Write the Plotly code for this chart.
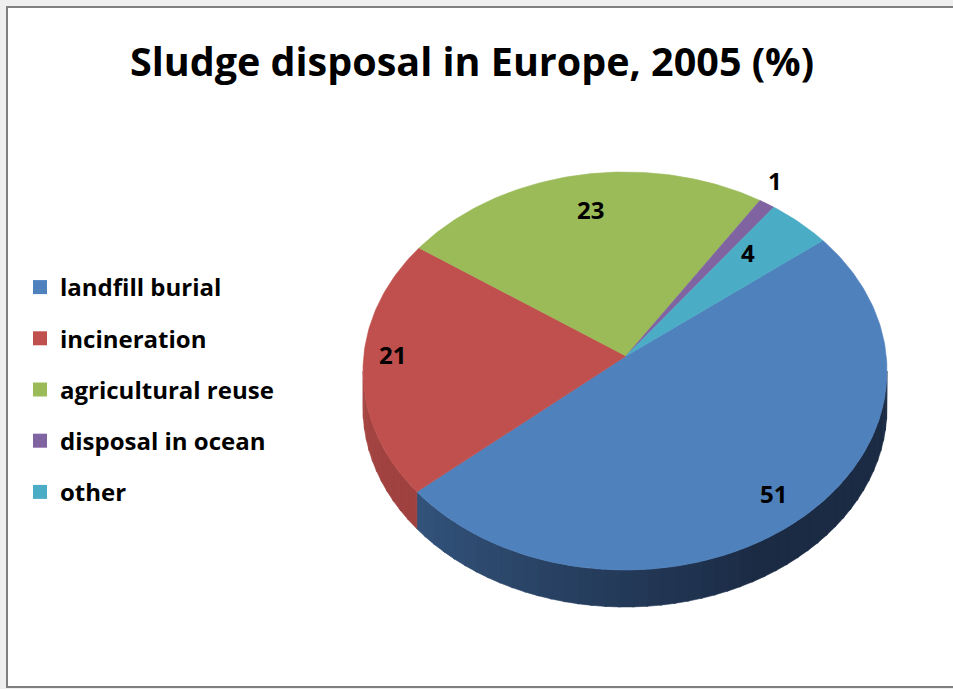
import numpy as np
import plotly.graph_objects as go

# ---- data ----
categories = ["landfill burial", "incineration", "agricultural reuse", "disposal in ocean", "other"]
values = [51, 21, 23, 1, 4]
label_text = ["51", "21", "23", "1", "4"]

# ---- styles ----
top_colors = ["#4f81bd", "#c0504d", "#9bbb59", "#8064a2", "#4bacc6"]
side_light = ["#3d6594", "#a64543", "#7a9646", "#644e80", "#3a8a9f"]
side_dark = ["#1b2b44", "#8a3735", "#5f7535", "#4a3a60", "#2b6b7c"]
label_r = [0.89, 0.89, 0.75, 1.05, 0.70]

W, H = 953, 689
CX, CY = 625, 371          # rim ellipse centre
VX, VY = 626, 356          # apex of slices (perspective)
RX, RY = 262, 199
DEPTH = 37
ROT = 49                   # compass degrees of first slice start

FONT = "Open Sans"


def rim(theta_deg, dy=0.0):
    t = np.radians(theta_deg)
    return CX + RX * np.sin(t), CY - RY * np.cos(t) + dy


def hex2rgb(h):
    h = h.lstrip("#")
    return [int(h[i:i + 2], 16) for i in (0, 2, 4)]


def mix(c1, c2, f):
    a, b = hex2rgb(c1), hex2rgb(c2)
    return "rgb(%d,%d,%d)" % tuple(round(a[i] + (b[i] - a[i]) * f) for i in range(3))


fig = go.Figure()

total = float(sum(values))
starts = []
acc = ROT
for v in values:
    starts.append(acc)
    acc += v / total * 360.0

# ---- side walls (front half: compass 90..270) ----
for i, v in enumerate(values):
    a0 = starts[i]
    a1 = a0 + v / total * 360.0
    for shift in (-360, 0, 360):
        lo = max(a0 + shift, 90)
        hi = min(a1 + shift, 270)
        if hi <= lo:
            continue
        nseg = max(1, int((hi - lo) / 3))
        edges = np.linspace(lo, hi, nseg + 1)
        for k in range(nseg):
            e0, e1 = edges[k], edges[k + 1] + (0.4 if k < nseg - 1 else 0)
            th = np.linspace(e0, e1, 6)
            xt, yt = rim(th)
            xb, yb = rim(th[::-1], DEPTH)
            xs = np.concatenate([xt, xb, xt[:1]])
            ys = np.concatenate([yt, yb, yt[:1]])
            f = (270 - (e0 + e1) / 2) / 180.0
            col = mix(side_light[i], side_dark[i], min(1, max(0, f * 1.5)))
            fig.add_trace(go.Scatter(
                x=xs, y=ys, mode="lines", fill="toself",
                fillcolor=col, line=dict(color=col, width=0.6),
                hoverinfo="skip", showlegend=False))

# ---- top faces ----
for i, v in enumerate(values):
    a0 = starts[i]
    a1 = a0 + v / total * 360.0
    th = np.linspace(a0, a1, max(4, int(v * 4)))
    xr, yr = rim(th)
    xs = np.concatenate([[VX], xr, [VX]])
    ys = np.concatenate([[VY], yr, [VY]])
    fig.add_trace(go.Scatter(
        x=xs, y=ys, mode="lines", fill="toself",
        fillcolor=top_colors[i], line=dict(color=top_colors[i], width=0.6),
        hoverinfo="skip", showlegend=False))

# ---- legend entries ----
for i, name in enumerate(categories):
    fig.add_trace(go.Scatter(
        x=[None], y=[None], mode="markers", name=name,
        marker=dict(symbol="square", size=14, color=top_colors[i]),
        legendgroup=name, showlegend=True))

# ---- data labels ----
for i, v in enumerate(values):
    mid = np.radians(starts[i] + v / total * 180.0)
    lx = VX + RX * np.sin(mid) * label_r[i]
    ly = VY - RY * np.cos(mid) * label_r[i]
    fig.add_annotation(x=lx, y=ly, text=label_text[i], showarrow=False,
                       font=dict(family=FONT, size=24, color="#000000", weight="bold"),
                       xanchor="center", yanchor="middle")

# ---- frame ----
shapes = [
    dict(type="rect", xref="x", yref="y", x0=0, y0=0, x1=W, y1=H,
         fillcolor="#efefef", line=dict(width=0), layer="below"),
    dict(type="rect", xref="x", yref="y", x0=7, y0=7, x1=W + 5, y1=687,
         fillcolor="#ffffff", line=dict(color="#7f7f7f", width=2), layer="below"),
]

fig.update_layout(
    width=W, height=H,
    margin=dict(l=0, r=0, t=0, b=0),
    paper_bgcolor="#ffffff", plot_bgcolor="#ffffff",
    xaxis=dict(range=[0, W], visible=False, fixedrange=True),
    yaxis=dict(range=[H, 0], visible=False, fixedrange=True),
    shapes=shapes,
    showlegend=True,
    legend=dict(x=20 / W, xanchor="left", y=1 - 265 / H, yanchor="top",
                font=dict(family=FONT, size=24, color="#000000", weight="bold"),
                tracegroupgap=17, bgcolor="rgba(0,0,0,0)", itemsizing="trace"),
    title=dict(text="Sludge disposal in Europe, 2005 (%)", x=472 / W, xanchor="center",
               y=1 - 62 / H, yanchor="middle",
               font=dict(family=FONT, size=39.5, color="#000000", weight="bold")),
)

fig.write_html("out.html")
